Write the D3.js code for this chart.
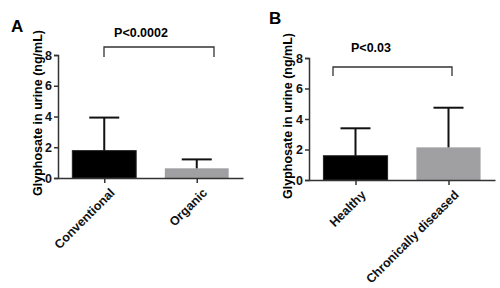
<!DOCTYPE html>
<html>
<head>
<meta charset="utf-8">
<script src="https://cdn.jsdelivr.net/npm/d3@7"></script>
<style>
  body { margin: 0; background: #fff; }
  svg { font-family: "Liberation Sans", Arial, sans-serif; font-weight: bold; }
</style>
</head>
<body>
<svg width="500" height="288"></svg>
<script>
// Données
const groupsA = ["Conventional", "Organic"];
const meansA = [1.78, 0.63];
const sdTopA = [3.93, 1.21];
const pA = "P<0.0002";

const groupsB = ["Healthy", "Chronically diseased"];
const meansB = [1.59, 2.14];
const sdTopB = [3.39, 4.74];
const pB = "P<0.03";

const yTicks = [0, 2, 4, 6, 8];
const colors = ["#000000", "#a0a0a2"];
const yLabel = "Glyphosate in urine (ng/mL)";

const svg = d3.select("svg");

function panel(o) {
    const g = svg.append("g");

    const y = d3.scaleLinear().domain([0, 8]).range([o.bottom, o.top]);
    const x = d3.scalePoint().domain(o.groups).range([o.left, o.right]).padding(0.5);
    const barW = x.step() * 0.69;

    // Axe Y
    const ay = g.append("g")
        .attr("transform", "translate(" + o.left + ",0)")
        .call(d3.axisLeft(y).tickValues(yTicks).tickSize(4).tickPadding(2));
    ay.select(".domain").attr("stroke", "#333").attr("stroke-width", 1.5);
    ay.selectAll(".tick line").attr("stroke", "#333").attr("stroke-width", 1.5);
    ay.selectAll(".tick text").attr("font-size", 12.5).attr("font-weight", "bold").attr("fill", "#111")
        .attr("font-family", "Liberation Sans, Arial, sans-serif");

    // Barres
    g.selectAll(".bar")
        .data(o.means)
        .enter().append("rect")
        .attr("x", (d, i) => x(o.groups[i]) - barW / 2)
        .attr("y", d => y(d))
        .attr("width", barW)
        .attr("height", d => y(0) - y(d))
        .attr("fill", (d, i) => colors[i])
        .attr("stroke", (d, i) => i === 0 ? "#222" : "none")
        .attr("stroke-width", 1);

    // Barres d'erreur
    const capW = 30;
    o.sdTop.forEach((d, i) => {
        const cx = x(o.groups[i]);
        g.append("line").attr("x1", cx).attr("x2", cx)
            .attr("y1", y(o.means[i])).attr("y2", y(d))
            .attr("stroke", "#111").attr("stroke-width", 2);
        g.append("line").attr("x1", cx - capW / 2).attr("x2", cx + capW / 2)
            .attr("y1", y(d)).attr("y2", y(d))
            .attr("stroke", "#111").attr("stroke-width", 2);
    });

    // Axe X
    const ax = g.append("g")
        .attr("transform", "translate(0," + y(0) + ")")
        .call(d3.axisBottom(x).tickSize(5).tickSizeOuter(0));
    ax.select(".domain").attr("stroke", "#333").attr("stroke-width", 1.5);
    ax.selectAll(".tick line").attr("stroke", "#333").attr("stroke-width", 1.5);
    ax.selectAll(".tick text")
        .attr("font-size", 12.5).attr("font-weight", "bold").attr("fill", "#111")
        .attr("font-family", "Liberation Sans, Arial, sans-serif")
        .attr("text-anchor", "end")
        .attr("dy", null)
        .attr("transform", "translate(5,10) rotate(-45)");

    // Crochet de significativité
    g.append("path")
        .attr("d", "M" + o.br[0] + "," + o.brLow + "V" + o.brY + "H" + o.br[1] + "V" + o.brLow)
        .attr("fill", "none").attr("stroke", "#333").attr("stroke-width", 1.3);
    g.append("text")
        .attr("x", o.pX).attr("y", o.pY)
        .attr("text-anchor", "middle").attr("font-size", 12.5)
        .text(o.p);

    // Titre de l'axe Y
    g.append("text")
        .attr("transform", "translate(" + o.labX + "," + o.labY + ") rotate(-90)")
        .attr("text-anchor", "middle").attr("font-size", 12.5)
        .text(yLabel);

    // Lettre du panneau
    g.append("text").attr("x", o.letX).attr("y", o.letY)
        .attr("font-size", 17).text(o.letter);
}

panel({
    groups: groupsA, means: meansA, sdTop: sdTopA, p: pA, letter: "A",
    left: 58, right: 243, top: 55, bottom: 178,
    br: [104, 214], brY: 47, brLow: 57, pX: 141, pY: 37,
    labX: 42, labY: 113, letX: 11, letY: 32
});

panel({
    groups: groupsB, means: meansB, sdTop: sdTopB, p: pB, letter: "B",
    left: 309, right: 495, top: 58, bottom: 180,
    br: [333, 452], brY: 67, brLow: 76, pX: 371, pY: 52,
    labX: 292, labY: 116, letX: 269, letY: 24
});
</script>
</body>
</html>
